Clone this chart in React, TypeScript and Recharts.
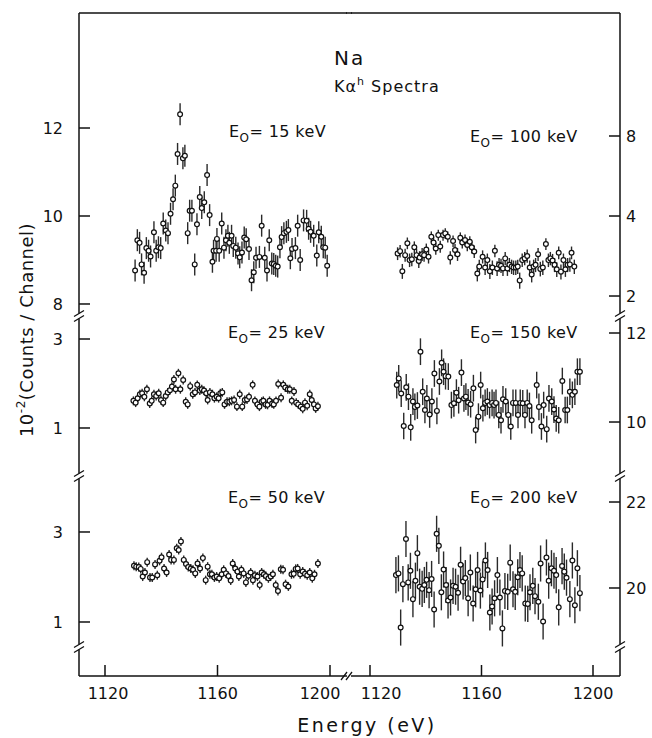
import React from "react";
import { ScatterChart, Scatter, XAxis, YAxis, ErrorBar } from "recharts";

// Na K-alpha hypersatellite spectra, counts / channel (x 10^-2)
const X_TICKS = [1120, 1160, 1200];

const e15 = [1130.7,1131.5,1132.3,1133.0,1133.9,1134.7,1135.5,1136.2,1137.4,1138.2,1139.0,1139.8,1140.7,1141.6,1142.4,1143.3,1144.2,1145.0,1145.8,1146.7,1147.7,1148.4,1149.4,1150.1,1150.9,1151.9,1152.7,1153.7,1154.4,1155.3,1156.3,1157.2,1158.2,1158.6,1159.5,1159.8,1160.6,1161.5,1162.3,1163.0,1163.7,1164.2,1165.0,1165.6,1166.5,1167.3,1167.9,1168.7,1169.5,1170.2,1171.2,1172.1,1172.9,1173.7,1174.9,1175.7,1176.8,1177.6,1178.4,1179.3,1180.0,1180.7,1181.4,1182.2,1182.8,1183.6,1184.5,1185.2,1185.9,1186.5,1187.7,1188.5,1189.4,1190.6,1191.7,1192.4,1193.1,1194.2,1195.3,1196.0,1196.9,1197.6,1198.3,1199.0];
const c15 = [8.76,9.45,9.39,8.90,8.71,9.27,9.21,9.08,9.63,9.21,9.29,9.27,9.83,9.67,9.61,10.05,10.38,10.69,11.41,12.31,11.31,11.37,9.61,10.12,10.12,8.90,9.81,10.43,10.18,10.31,10.93,10.02,8.96,9.21,9.21,9.48,9.21,9.83,9.28,9.45,9.55,9.39,9.55,9.32,9.28,9.15,9.06,9.17,9.51,9.47,9.25,8.54,8.72,9.05,9.07,9.78,9.05,8.76,9.45,8.92,8.91,8.87,8.85,9.29,9.52,9.61,9.64,9.68,9.04,9.25,9.27,9.78,9.00,9.90,9.89,9.71,9.64,9.55,9.10,9.63,9.53,9.29,9.28,8.87];

const e100 = [1129.9,1130.8,1131.6,1132.6,1133.4,1134.2,1135.0,1135.9,1136.7,1137.5,1137.8,1138.7,1139.4,1140.2,1141.0,1142.0,1142.8,1143.6,1144.5,1145.2,1146.2,1147.0,1147.9,1148.8,1149.8,1150.5,1151.4,1152.4,1153.1,1154.1,1154.9,1155.8,1156.5,1157.4,1158.5,1159.2,1160.4,1161.3,1162.1,1163.0,1163.9,1164.8,1165.6,1166.3,1167.0,1167.7,1168.5,1169.3,1170.0,1170.8,1171.5,1172.3,1173.0,1173.7,1174.6,1175.5,1176.4,1177.3,1178.0,1178.7,1179.4,1180.3,1181.1,1182.0,1183.1,1184.0,1184.7,1185.5,1186.2,1187.0,1187.7,1188.5,1189.4,1190.1,1190.9,1191.7,1192.3,1193.3];
const c100 = [2.89,2.95,2.48,2.85,3.16,2.73,2.75,3.05,2.85,2.71,2.79,2.87,2.85,2.99,2.81,3.34,3.18,3.02,3.39,3.07,3.39,3.44,3.34,2.79,3.22,2.98,2.87,3.31,3.18,3.25,3.11,3.20,3.05,2.94,2.43,2.58,2.81,2.56,2.73,2.48,2.56,2.96,2.54,2.62,2.60,2.54,2.77,2.54,2.62,2.58,2.56,2.56,2.58,2.29,2.73,2.77,2.83,2.56,2.41,2.58,2.62,2.87,2.53,2.56,3.14,2.73,2.77,2.72,2.62,2.52,2.91,2.47,2.73,2.52,2.62,2.63,2.91,2.58];

const e25 = [1130.1,1130.9,1131.6,1132.4,1133.2,1134.0,1134.9,1135.9,1136.6,1137.4,1138.2,1139.1,1139.9,1140.7,1141.6,1142.3,1143.1,1143.8,1144.5,1145.1,1146.1,1146.8,1147.8,1148.7,1149.4,1150.3,1151.2,1152.0,1152.8,1153.7,1154.4,1155.2,1156.0,1156.5,1157.3,1158.2,1158.9,1159.7,1160.4,1161.0,1161.7,1162.5,1163.4,1164.2,1165.0,1165.9,1166.9,1167.9,1168.8,1169.7,1170.5,1171.2,1172.5,1173.3,1174.2,1174.9,1175.7,1176.3,1177.1,1177.8,1178.5,1179.4,1180.0,1180.8,1181.6,1182.6,1183.4,1184.1,1185.0,1185.7,1186.4,1187.2,1188.0,1188.7,1189.6,1190.3,1191.1,1191.9,1192.8,1193.5,1194.3,1194.9,1195.7];
const c25 = [1.61,1.57,1.67,1.76,1.78,1.70,1.87,1.55,1.61,1.76,1.72,1.78,1.63,1.57,1.72,1.80,1.85,1.93,2.09,1.87,2.23,1.87,2.08,1.59,1.53,1.94,1.76,1.80,1.97,1.84,1.87,1.84,1.78,1.63,1.80,1.76,1.67,1.70,1.67,1.78,1.80,1.53,1.59,1.59,1.61,1.63,1.48,1.76,1.48,1.63,1.64,1.70,1.97,1.61,1.53,1.48,1.59,1.61,1.53,1.52,1.61,1.55,1.53,1.61,1.99,1.68,1.97,1.91,1.87,1.87,1.61,1.82,1.57,1.53,1.48,1.43,1.57,1.50,1.76,1.63,1.53,1.44,1.49];

const e150 = [1129.6,1130.3,1131.2,1132.1,1133.0,1133.8,1134.6,1135.4,1136.1,1137.0,1138.1,1138.9,1139.7,1140.4,1141.4,1142.2,1143.1,1144.0,1144.9,1145.7,1146.4,1147.1,1148.1,1149.2,1150.1,1151.0,1151.8,1152.8,1153.7,1154.4,1155.2,1156.1,1157.1,1157.9,1158.9,1159.7,1160.5,1161.3,1162.1,1162.9,1163.8,1164.5,1165.2,1166.2,1167.0,1167.7,1168.7,1169.6,1170.5,1171.3,1172.3,1173.1,1173.9,1174.8,1175.6,1176.4,1177.2,1178.0,1179.8,1180.6,1181.5,1182.3,1183.4,1184.2,1185.2,1186.0,1186.8,1187.7,1189.0,1190.0,1190.8,1191.7,1192.6,1193.5,1194.4,1195.3];
const c150 = [10.83,10.98,10.64,9.91,10.78,10.57,9.88,10.46,10.34,10.37,11.58,10.68,10.27,10.53,10.17,10.46,11.09,10.25,10.91,11.33,11.13,11.03,11.02,10.38,10.42,10.66,10.49,11.11,10.53,10.57,10.44,10.40,10.76,9.82,10.12,10.83,10.31,10.43,10.46,10.38,10.43,10.38,10.43,10.16,10.04,10.51,10.46,10.16,9.90,10.43,10.43,10.16,10.43,10.42,10.16,10.43,10.36,10.04,10.83,10.34,9.90,10.38,9.84,10.53,10.46,10.28,10.08,10.04,10.92,10.27,10.27,10.68,10.61,10.68,11.13,11.13];

const e50 = [1130.3,1131.1,1132.0,1132.7,1133.4,1134.2,1135.0,1136.0,1136.8,1137.8,1138.6,1139.4,1140.1,1141.0,1141.9,1142.8,1143.5,1144.5,1145.5,1146.2,1147.0,1148.0,1148.8,1149.6,1150.5,1151.3,1152.1,1152.9,1153.8,1154.8,1155.8,1156.5,1157.3,1158.0,1158.9,1159.7,1160.6,1161.5,1162.2,1163.0,1163.9,1164.7,1165.4,1166.3,1167.1,1167.6,1168.5,1169.3,1170.1,1171.0,1171.8,1172.6,1173.3,1174.2,1175.0,1175.7,1176.5,1177.2,1178.1,1178.9,1179.7,1180.7,1181.5,1182.5,1183.3,1184.2,1185.2,1186.3,1187.1,1187.8,1188.5,1189.4,1190.3,1191.1,1191.9,1192.8,1193.7,1194.5,1195.7];
const c50 = [2.25,2.23,2.22,2.18,2.01,2.10,2.33,1.99,1.99,2.28,2.04,2.36,2.44,2.19,2.10,2.50,2.38,2.38,2.64,2.60,2.79,2.38,2.29,2.22,2.19,2.16,2.08,2.30,2.19,2.42,1.93,2.23,2.06,2.06,1.99,2.01,1.97,2.06,2.16,2.08,2.02,1.92,2.30,2.19,2.12,2.01,2.16,2.08,1.88,2.03,2.10,1.93,2.04,2.01,1.82,2.10,2.06,2.02,1.97,2.01,2.06,1.82,1.69,2.17,2.16,1.84,1.79,2.06,2.07,2.18,2.19,2.06,2.12,2.07,2.04,2.10,1.97,2.06,2.30];

const e200 = [1129.3,1130.2,1131.0,1131.8,1132.9,1133.7,1134.5,1135.4,1136.3,1137.0,1137.8,1138.7,1139.5,1140.3,1141.2,1142.1,1143.0,1143.9,1144.7,1145.6,1146.4,1147.3,1148.0,1148.9,1149.8,1150.7,1151.6,1152.5,1153.4,1154.2,1155.2,1156.0,1157.0,1157.9,1158.6,1159.6,1160.4,1161.4,1162.2,1163.0,1163.8,1164.7,1165.7,1166.6,1167.5,1168.4,1169.4,1170.3,1171.3,1172.1,1173.0,1173.8,1174.6,1175.7,1176.6,1177.4,1178.4,1179.2,1180.4,1181.2,1182.1,1183.3,1184.1,1185.1,1186.0,1186.8,1187.7,1188.9,1189.7,1190.5,1191.7,1192.6,1193.5,1194.4,1195.3];
const c200 = [20.30,20.34,19.08,20.09,21.14,20.13,20.40,19.74,20.17,20.81,20.03,19.98,20.07,20.19,19.95,20.21,19.50,21.26,20.98,19.90,20.43,20.07,19.71,19.78,20.05,20.03,19.89,20.54,20.15,20.23,19.76,20.36,19.64,19.97,20.42,19.94,20.20,20.64,20.42,19.43,19.57,19.76,20.30,19.78,19.06,19.93,19.91,20.59,19.97,19.91,20.25,20.42,20.34,19.64,19.63,19.90,20.05,19.81,19.68,20.57,19.22,20.71,20.17,20.46,20.40,20.30,19.55,20.51,20.38,20.24,19.74,20.64,19.60,20.46,19.88];

// statistical error (one sigma)
const err15 = 0.25;
const err100 = 0.16;
const err25 = 0.1;
const err150 = 0.3;
const err50 = 0.1;
const err200 = 0.42;

const INK = "#111";
const FONT = "DejaVu Sans, sans-serif";
const tickStyle = { fontSize: 16, fill: INK, fontFamily: FONT };
const lineStyle = { stroke: INK, strokeWidth: 1.5 };

const build = (xs: number[], ys: number[], err: number) =>
  xs.map((x, i) => ({ x, y: ys[i], err }));

const Dot = (p: any) => (
  <circle cx={p.cx} cy={p.cy} r={2.4} fill="#fff" stroke={INK} strokeWidth={1.2} />
);

// labels either side of the axis break are pushed apart a little
const LABEL_NUDGE: Record<string, Record<number, number>> = {
  left: { 1120: 3, 1200: -10 },
  right: { 1120: 11 },
};

const makeXTick = (side: string) => (p: any) => {
  const dx = LABEL_NUDGE[side][p.payload.value] || 0;
  return (
    <text
      x={p.x + dx}
      y={p.y}
      dy="0.71em"
      textAnchor="middle"
      fontSize={16}
      fontFamily={FONT}
      fill={INK}
    >
      {p.payload.value}
    </text>
  );
};

type PanelProps = {
  data: { x: number; y: number; err: number }[];
  side: "left" | "right";
  row: 0 | 1 | 2;
  yDomain: [number, number];
  yTicks: number[];
  logY?: boolean;
};

const COLS = {
  left: { left: 0, width: 347, axisW: 79, margin: 27, xDomain: [1110.756, 1206.044] },
  right: { left: 351, width: 301, axisW: 32, margin: 17, xDomain: [1113.184, 1209.686] },
};
const ROWS = [
  { top: 0, height: 316, mode: "top" },
  { top: 316, height: 160, mode: "none" },
  { top: 476, height: 230, mode: "bottom" },
];

function Panel({ data, side, row, yDomain, yTicks, logY }: PanelProps) {
  const c = COLS[side];
  const r = ROWS[row];
  return (
    <div style={{ position: "absolute", left: c.left, top: r.top }}>
      <ScatterChart
        width={c.width}
        height={r.height}
        margin={{ top: 0, right: 0, bottom: 0, left: 0 }}
      >
        <XAxis
          type="number"
          dataKey="x"
          domain={c.xDomain}
          allowDataOverflow
          ticks={X_TICKS}
          interval={0}
          orientation={r.mode === "top" ? "top" : "bottom"}
          hide={r.mode === "none"}
          height={r.mode === "top" ? 13 : 30}
          tickSize={-11}
          tickMargin={23}
          tick={r.mode === "bottom" ? makeXTick(side) : false}
          axisLine={lineStyle}
          tickLine={lineStyle}
        />
        <YAxis
          type="number"
          dataKey="y"
          domain={yDomain}
          scale={logY ? "log" : "linear"}
          allowDataOverflow
          ticks={yTicks}
          interval={0}
          orientation={side}
          width={c.axisW}
          tickSize={-11}
          tickMargin={c.margin}
          tick={tickStyle}
          axisLine={lineStyle}
          tickLine={lineStyle}
        />
        <Scatter data={data} isAnimationActive={false} shape={Dot}>
          <ErrorBar dataKey="err" direction="y" width={0} stroke="#2a2a2a" strokeWidth={1.4} />
        </Scatter>
      </ScatterChart>
    </div>
  );
}

const Break = ({ x, y }: { x: number; y: number }) => (
  <g stroke={INK} strokeWidth={1.3}>
    <rect x={x - 3} y={y - 2.5} width={6} height={5} fill="#fff" stroke="none" />
    <line x1={x - 5} y1={y + 0.5} x2={x + 5} y2={y - 5.5} />
    <line x1={x - 5} y1={y + 5.5} x2={x + 5} y2={y - 0.5} />
  </g>
);

const EoLabel = ({ x, y, kev }: { x: number; y: number; kev: string }) => (
  <text x={x} y={y} fontSize={16} fontFamily={FONT} fill={INK} letterSpacing={0.4}>
    E
    <tspan fontSize={12} dy={5}>O</tspan>
    <tspan dy={-5}>{`= ${kev} keV`}</tspan>
  </text>
);

export default function App() {
  return (
    <div
      style={{
        position: "absolute",
        left: 0,
        top: 0,
        width: 652,
        height: 738,
        background: "#fff",
      }}
    >
      <style>{`.recharts-surface { overflow: visible; }`}</style>
      <Panel data={build(e15, c15, err15)} side="left" row={0} yDomain={[7.727, 14.614]} yTicks={[8, 10, 12]} />
      <Panel data={build(e100, c100, err100)} side="right" row={0} yDomain={[1.682, 23.22]} yTicks={[2, 4, 8]} logY />
      <Panel data={build(e25, c25, err25)} side="left" row={1} yDomain={[-0.079, 3.517]} yTicks={[1, 3]} />
      <Panel data={build(e150, c150, err150)} side="right" row={1} yDomain={[8.787, 12.382]} yTicks={[10, 12]} />
      <Panel data={build(e50, c50, err50)} side="left" row={2} yDomain={[-0.2, 4.244]} yTicks={[1, 3]} />
      <Panel data={build(e200, c200, err200)} side="right" row={2} yDomain={[17.953, 22.605]} yTicks={[20, 22]} />

      <svg
        width={652}
        height={738}
        style={{ position: "absolute", left: 0, top: 0, pointerEvents: "none" }}
      >
        <line x1={346} y1={13} x2={352} y2={13} {...lineStyle} />
        {[316, 476, 647].map((y) => (
          <g key={y}>
            <Break x={79} y={y} />
            <Break x={620} y={y} />
          </g>
        ))}
        <g stroke={INK} strokeWidth={1.3}>
          <line x1={341} y1={680} x2={347} y2={672} />
          <line x1={346} y1={680} x2={352} y2={672} />
        </g>

        <text x={334} y={65} fontSize={20} fontFamily={FONT} fill={INK} letterSpacing={2}>
          Na
        </text>
        <text x={334} y={92} fontSize={16} fontFamily={FONT} fill={INK} letterSpacing={1}>
          Kα
          <tspan fontSize={11} dy={-7}>h</tspan>
          <tspan dy={7}>{" Spectra"}</tspan>
        </text>

        <EoLabel x={229} y={137} kev="15" />
        <EoLabel x={470} y={142} kev="100" />
        <EoLabel x={228} y={338} kev="25" />
        <EoLabel x={470} y={338} kev="150" />
        <EoLabel x={228} y={503} kev="50" />
        <EoLabel x={470} y={503} kev="200" />

        <text
          x={33}
          y={330}
          transform="rotate(-90 33 330)"
          textAnchor="middle"
          fontSize={18}
          fontFamily={FONT}
          fill={INK}
          letterSpacing={0.5}
        >
          10
          <tspan fontSize={12} dy={-8}>-2</tspan>
          <tspan dy={8}>(Counts / Channel)</tspan>
        </text>
        <text
          x={367}
          y={732}
          textAnchor="middle"
          fontSize={19}
          fontFamily={FONT}
          fill={INK}
          letterSpacing={2.5}
        >
          Energy (eV)
        </text>
      </svg>
    </div>
  );
}
